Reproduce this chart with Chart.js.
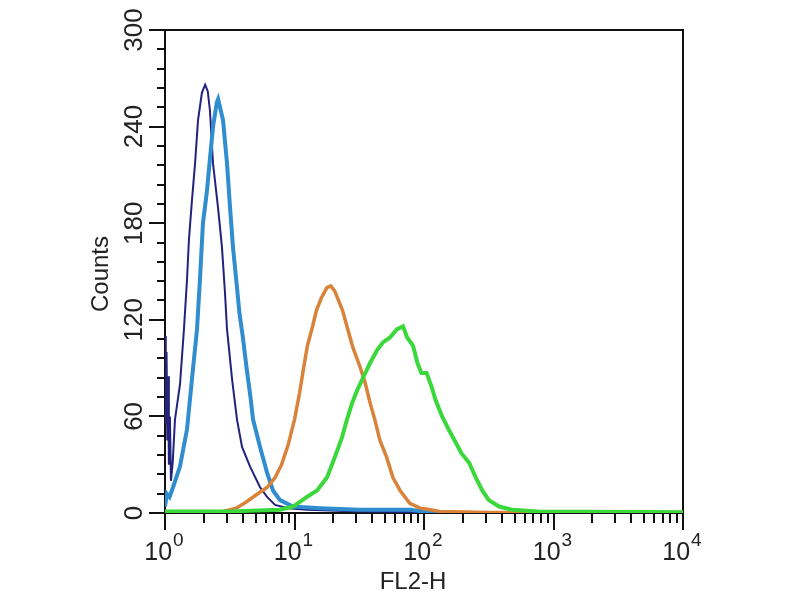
<!DOCTYPE html>
<html>
<head>
<meta charset="utf-8">
<script src="https://cdn.jsdelivr.net/npm/chart.js@4.4.1/dist/chart.umd.min.js"></script>
<style>
html, body { margin: 0; padding: 0; background: #fff; }
</style>
</head>
<body>
<canvas id="myChart" width="800" height="600"></canvas>
<script>
// x values are FL2-H in decades (0 = 10^0 ... 4 = 10^4), y values are counts
const navyX = [0, 0.006, 0.012, 0.018, 0.024, 0.03, 0.038, 0.046, 0.06, 0.077, 0.116, 0.147, 0.17, 0.185, 0.208, 0.232, 0.255, 0.285, 0.31, 0.33, 0.347, 0.371, 0.409, 0.44, 0.463, 0.479, 0.518, 0.556, 0.595, 0.656, 0.734, 0.788, 0.85, 0.95, 1.1, 1.5, 2.0, 2.5, 4.0];
const navyY = [110, 55, 100, 45, 85, 30, 60, 20, 32, 58, 80, 115, 145, 170, 194, 217, 244, 261, 266, 262, 250, 217, 190, 165, 137, 114, 83, 58, 41, 29, 16, 10, 5, 3, 2, 1, 0.5, 0, 0];

const blueX = [0, 0.015, 0.035, 0.062, 0.116, 0.17, 0.208, 0.247, 0.27, 0.293, 0.324, 0.347, 0.371, 0.40, 0.41, 0.448, 0.479, 0.502, 0.525, 0.556, 0.575, 0.60, 0.63, 0.66, 0.68, 0.734, 0.788, 0.834, 0.888, 0.988, 1.2, 1.5, 1.9, 2.05, 2.5, 4.0];
const blueY = [4, 12, 10, 16, 29, 52, 83, 114, 145, 180, 200, 220, 240, 255, 257, 244, 217, 190, 165, 140, 124, 110, 90, 72, 58, 41, 25, 14, 8, 4, 3, 2, 2, 0, 0, 0];

const orangeX = [0, 0.32, 0.45, 0.55, 0.63, 0.70, 0.79, 0.85, 0.90, 0.95, 1.00, 1.04, 1.07, 1.10, 1.14, 1.17, 1.21, 1.25, 1.28, 1.31, 1.37, 1.405, 1.45, 1.505, 1.545, 1.585, 1.62, 1.66, 1.71, 1.76, 1.815, 1.89, 1.97, 2.05, 2.12, 2.5, 4.0];
const orangeY = [0, 0.5, 1, 3, 7, 11, 16, 22, 30, 42, 58, 75, 90, 104, 116, 126, 134, 140, 141, 138, 126, 116, 103, 91, 81, 68, 58, 45, 35, 22, 14, 6, 3, 2, 1, 0.3, 0.3];

const greenX = [0, 0.5, 0.888, 0.988, 1.097, 1.174, 1.251, 1.313, 1.367, 1.405, 1.444, 1.483, 1.529, 1.583, 1.637, 1.683, 1.737, 1.79, 1.838, 1.87, 1.915, 1.95, 1.98, 2.02, 2.06, 2.09, 2.14, 2.19, 2.25, 2.29, 2.35, 2.40, 2.45, 2.50, 2.58, 2.68, 2.88, 4.0];
const greenY = [1, 1, 2, 4, 10, 14, 22, 35, 47, 58, 68, 76, 84, 93, 101, 106, 109, 114, 116, 109, 104, 93, 87, 87, 78, 70, 60, 52, 43, 37, 31, 22, 14, 8, 4, 2, 1, 0.5];

const yTicks = [0, 60, 120, 180, 240, 300];
const yMinorStep = 12;
const xDecades = [0, 1, 2, 3, 4];
const xTitle = 'FL2-H';
const yTitle = 'Counts';

function pairs(xs, ys) {
    return xs.map((x, i) => ({ x: x, y: ys[i] }));
}

const axesPlugin = {
    id: 'axesPlugin',
    beforeDatasetsDraw(chart) {
        const { ctx, chartArea: a, scales } = chart;
        const x = scales.x, y = scales.y;
        ctx.save();
        ctx.strokeStyle = '#111';
        ctx.lineWidth = 2;
        ctx.strokeRect(a.left, a.top, a.right - a.left, a.bottom - a.top);

        ctx.beginPath();
        for (let v = 0; v <= 300; v += yMinorStep) {
            const py = Math.round(y.getPixelForValue(v));
            const len = yTicks.includes(v) ? 16 : 8;
            ctx.moveTo(a.left, py);
            ctx.lineTo(a.left - len, py);
        }
        xDecades.forEach(d => {
            const px = Math.round(x.getPixelForValue(d));
            ctx.moveTo(px, a.bottom);
            ctx.lineTo(px, a.bottom + 17);
            if (d < 4) {
                for (let k = 2; k < 10; k++) {
                    const mx = Math.round(x.getPixelForValue(d + Math.log10(k)));
                    ctx.moveTo(mx, a.bottom);
                    ctx.lineTo(mx, a.bottom + 10);
                }
            }
        });
        ctx.stroke();

        ctx.fillStyle = '#222';
        // y tick labels, rotated
        ctx.font = '26px "Liberation Sans", Arial, sans-serif';
        ctx.textAlign = 'center';
        ctx.textBaseline = 'alphabetic';
        yTicks.forEach(v => {
            const py = y.getPixelForValue(v);
            ctx.save();
            ctx.translate(142, py);
            ctx.rotate(-Math.PI / 2);
            ctx.fillText(String(v), 0, 0);
            ctx.restore();
        });

        // x tick labels 10^n
        xDecades.forEach(d => {
            const px = x.getPixelForValue(d);
            ctx.font = '25px "Liberation Sans", Arial, sans-serif';
            const baseW = ctx.measureText('10').width;
            ctx.font = '19px "Liberation Sans", Arial, sans-serif';
            const expW = ctx.measureText(String(d)).width;
            const start = px - (baseW + expW + 1) / 2 - 1;
            ctx.textAlign = 'left';
            ctx.font = '25px "Liberation Sans", Arial, sans-serif';
            ctx.fillText('10', start, 560);
            ctx.font = '19px "Liberation Sans", Arial, sans-serif';
            ctx.fillText(String(d), start + baseW + 1, 546);
        });

        // axis titles
        ctx.textAlign = 'center';
        ctx.font = '24px "Liberation Sans", Arial, sans-serif';
        ctx.fillText(xTitle, 413, 589);
        ctx.save();
        ctx.translate(108, 274);
        ctx.rotate(-Math.PI / 2);
        ctx.fillText(yTitle, 0, 0);
        ctx.restore();
        ctx.restore();
    }
};

const ctx = document.getElementById('myChart').getContext('2d');
new Chart(ctx, {
    type: 'line',
    data: {
        datasets: [{
            label: 'green',
            data: pairs(greenX, greenY),
            borderColor: '#3bd83b',
            borderWidth: 4,
            order: 1
        }, {
            label: 'orange',
            data: pairs(orangeX, orangeY),
            borderColor: '#d8823a',
            borderWidth: 3.5,
            order: 2
        }, {
            label: 'blue',
            data: pairs(blueX, blueY),
            borderColor: '#2f8dd0',
            borderWidth: 4,
            order: 3
        }, {
            label: 'navy',
            data: pairs(navyX, navyY),
            borderColor: '#23237e',
            borderWidth: 2,
            order: 4
        }]
    },
    options: {
        responsive: false,
        animation: false,
        layout: {
            padding: { left: 165, right: 117, top: 30, bottom: 87 }
        },
        elements: {
            point: { radius: 0 },
            line: { tension: 0, fill: false }
        },
        scales: {
            x: { type: 'linear', min: 0, max: 4, display: false },
            y: { type: 'linear', min: 0, max: 300, display: false }
        },
        plugins: {
            legend: { display: false },
            tooltip: { enabled: false }
        }
    },
    plugins: [axesPlugin]
});
</script>
</body>
</html>
